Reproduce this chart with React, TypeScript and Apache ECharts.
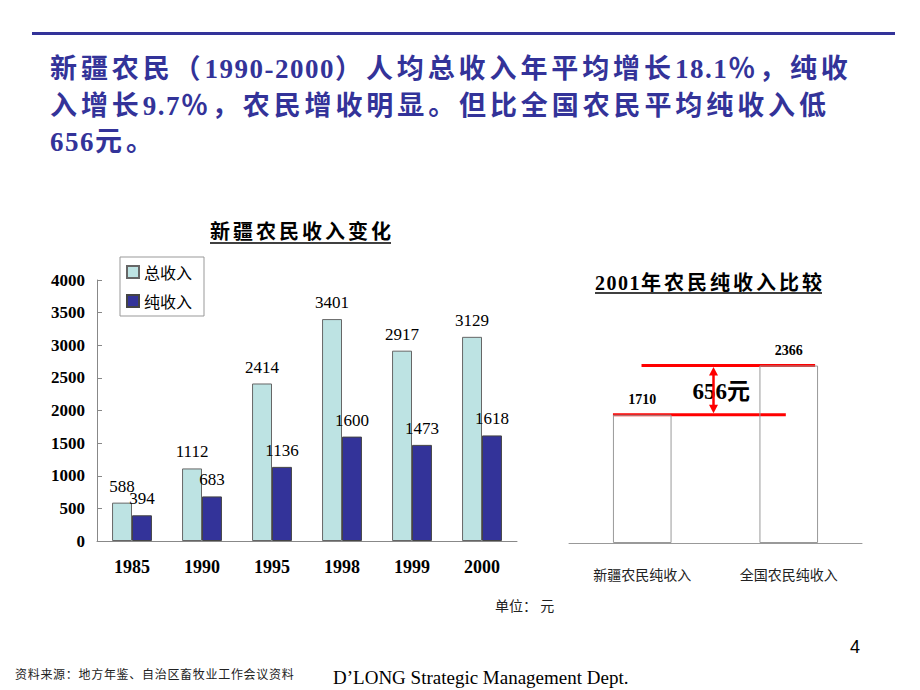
import React, { useEffect, useRef } from "react";
import * as echarts from "echarts";

// ---------- data ----------
const headlineLines = [
  "新疆农民（1990-2000）人均总收入年平均增长18.1％，纯收",
  "入增长9.7％，农民增收明显。但比全国农民平均纯收入低",
  "656元。",
];
const leftTitle = "新疆农民收入变化";
const rightTitle = "2001年农民纯收入比较";
const seriesNames = ["总收入", "纯收入"];
const years = ["1985", "1990", "1995", "1998", "1999", "2000"];
const totalIncome = [588, 1112, 2414, 3401, 2917, 3129];
const netIncome = [394, 683, 1136, 1600, 1473, 1618];
const leftAxisMin = 0;
const leftAxisMax = 4000;
const leftAxisInterval = 500;
const compareCategories = ["新疆农民纯收入", "全国农民纯收入"];
const compareValues = [1710, 2366];
const compareAxisMax = 3000;
const unitText = "单位： 元";
const sourceText = "资料来源：地方年鉴、自治区畜牧业工作会议资料";
const footerText = "D’LONG Strategic Management Dept.";
const pageNumber = "4";

// ---------- styles ----------
const SERIF = '"Liberation Serif", "Noto Sans CJK SC", serif';
const CJK = '"Noto Sans CJK SC", "Liberation Serif", sans-serif';
const BLUE = "#333399";
const LIGHT = "#bde3e3";

let measureCtx: CanvasRenderingContext2D | null = null;
function measure(text: string, font: string): number {
  if (!measureCtx) measureCtx = document.createElement("canvas").getContext("2d");
  measureCtx!.font = font;
  return measureCtx!.measureText(text).width;
}

function isWide(ch: string): boolean {
  return ch.charCodeAt(0) > 0x2e80;
}

function spacedText(
  text: string,
  x: number,
  y: number,
  size: number,
  weight: string,
  family: string,
  wideSpacing: number,
  narrowSpacing: number,
  fill: string
) {
  const children: any[] = [];
  let cx = x;
  let lastSpacing = 0;
  for (const ch of Array.from(text)) {
    children.push({
      type: "text",
      x: cx,
      y,
      silent: true,
      style: {
        text: ch,
        fontSize: size,
        fontWeight: weight,
        fontFamily: family,
        fill,
        verticalAlign: "middle",
        align: "left",
      },
    });
    lastSpacing = isWide(ch) ? wideSpacing : narrowSpacing;
    cx += measure(ch, `${weight} ${size}px ${family}`) + lastSpacing;
  }
  return { children, end: cx - lastSpacing };
}

export default function App() {
  const ref = useRef<HTMLDivElement>(null);

  useEffect(() => {
    if (!ref.current) return;
    const chart = echarts.init(ref.current, null, { renderer: "svg" });

    const graphics: any[] = [];
    // top rule
    graphics.push({
      type: "rect",
      silent: true,
      shape: { x: 32, y: 32, width: 863, height: 3 },
      style: { fill: BLUE },
    });
    // headline
    const headY = [69, 106, 142];
    headlineLines.forEach((line, i) => {
      const t = spacedText(line, 50, headY[i], 27, "bold", SERIF, 3.9, 1.5, BLUE);
      graphics.push(...t.children);
    });
    // left chart title + underline
    const lt = spacedText(leftTitle, 210, 232, 20, "bold", SERIF, 3, 1, "#000");
    graphics.push(...lt.children);
    graphics.push({
      type: "line",
      silent: true,
      shape: { x1: 210, y1: 243, x2: lt.end, y2: 243 },
      style: { stroke: "#000", lineWidth: 1.5 },
    });
    // right chart title + underline
    const rt = spacedText(rightTitle, 595, 283, 20, "bold", SERIF, 3, 1.5, "#000");
    graphics.push(...rt.children);
    graphics.push({
      type: "line",
      silent: true,
      shape: { x1: 595, y1: 293, x2: rt.end, y2: 293 },
      style: { stroke: "#000", lineWidth: 1.5 },
    });
    // unit
    graphics.push({
      type: "text",
      silent: true,
      x: 495,
      y: 605,
      style: { text: unitText, fontSize: 14, fontFamily: CJK, fill: "#222", verticalAlign: "middle" },
    });
    // source
    const st = spacedText(sourceText, 15, 673, 12, "normal", CJK, 0.7, 0.7, "#222");
    graphics.push(...st.children);
    graphics.push({
      type: "text",
      silent: true,
      x: 333,
      y: 677,
      style: { text: footerText, fontSize: 19, fontFamily: SERIF, fill: "#000", verticalAlign: "middle" },
    });
    graphics.push({
      type: "text",
      silent: true,
      x: 855,
      y: 647,
      style: {
        text: pageNumber,
        fontSize: 18,
        fontFamily: '"Liberation Sans", sans-serif',
        fill: "#000",
        align: "center",
        verticalAlign: "middle",
      },
    });

    chart.setOption({
      animation: false,
      backgroundColor: "#fff",
      legend: {
        data: seriesNames,
        orient: "vertical",
        left: 120,
        top: 257,
        padding: [7, 12, 7, 6],
        itemGap: 13,
        itemWidth: 12,
        itemHeight: 12,
        icon: "rect",
        borderColor: "#999",
        borderWidth: 1,
        textStyle: { fontSize: 16, fontFamily: CJK, color: "#000" },
      },
      grid: [
        { left: 97, top: 280, width: 420, height: 261 },
        { left: 569, top: 318, width: 293, height: 225 },
      ],
      xAxis: [
        {
          gridIndex: 0,
          type: "category",
          data: years,
          axisLine: { lineStyle: { color: "#888" } },
          axisTick: { inside: true, length: 5, lineStyle: { color: "#888" } },
          axisLabel: {
            fontSize: 18,
            fontWeight: "bold",
            fontFamily: SERIF,
            color: "#000",
            margin: 17,
          },
        },
        {
          gridIndex: 1,
          type: "category",
          data: compareCategories,
          axisLine: { lineStyle: { color: "#999" } },
          axisTick: { inside: true, length: 6, lineStyle: { color: "#999" } },
          axisLabel: { fontSize: 14, fontFamily: CJK, color: "#222", margin: 24 },
        },
      ],
      yAxis: [
        {
          gridIndex: 0,
          type: "value",
          min: leftAxisMin,
          max: leftAxisMax,
          interval: leftAxisInterval,
          axisLine: { show: true, lineStyle: { color: "#888" } },
          axisTick: { show: true, inside: true, length: 5, lineStyle: { color: "#888" } },
          splitLine: { show: false },
          axisLabel: {
            fontSize: 17,
            fontWeight: "bold",
            fontFamily: SERIF,
            color: "#000",
            margin: 12,
            formatter: (v: number) => String(v),
          },
        },
        {
          gridIndex: 1,
          type: "value",
          min: 0,
          max: compareAxisMax,
          show: false,
          splitLine: { show: false },
        },
      ],
      series: [
        {
          name: seriesNames[0],
          type: "bar",
          xAxisIndex: 0,
          yAxisIndex: 0,
          data: totalIncome,
          barGap: "0%",
          barCategoryGap: "43%",
          itemStyle: { color: LIGHT, borderColor: "#666", borderWidth: 1 },
          label: {
            show: true,
            position: "top",
            distance: 8,
            fontSize: 17,
            fontFamily: SERIF,
            color: "#000",
          },
        },
        {
          name: seriesNames[1],
          type: "bar",
          xAxisIndex: 0,
          yAxisIndex: 0,
          data: netIncome,
          itemStyle: { color: BLUE, borderColor: "#444", borderWidth: 1 },
          label: {
            show: true,
            position: "top",
            distance: 8,
            fontSize: 17,
            fontFamily: SERIF,
            color: "#000",
          },
        },
        {
          name: "compare",
          type: "bar",
          xAxisIndex: 1,
          yAxisIndex: 1,
          data: compareValues,
          barWidth: "40%",
          itemStyle: { color: "rgba(0,0,0,0)", borderColor: "#999", borderWidth: 1 },
          label: {
            show: true,
            position: "top",
            distance: 8,
            fontSize: 14,
            fontWeight: "bold",
            fontFamily: SERIF,
            color: "#000",
          },
        },
        {
          name: "gap",
          type: "custom",
          xAxisIndex: 1,
          yAxisIndex: 1,
          clip: false,
          silent: true,
          data: [[0, compareValues[0], compareValues[1]]],
          encode: { x: 0, y: [1, 2] },
          renderItem: (params: any, api: any) => {
            const lo = api.value(1);
            const hi = api.value(2);
            const a = api.coord([0, lo]);
            const b = api.coord([1, hi]);
            const bw = api.size([1, 0])[0];
            const yLow = a[1];
            const yUp = b[1];
            const ax = (a[0] + b[0]) / 2 - 2;
            const red = "#ff0000";
            return {
              type: "group",
              children: [
                {
                  type: "line",
                  shape: { x1: a[0] - 0.2 * bw, y1: yLow, x2: b[0] - 0.02 * bw, y2: yLow },
                  style: { stroke: red, lineWidth: 3 },
                },
                {
                  type: "line",
                  shape: { x1: a[0] - 0.005 * bw, y1: yUp, x2: b[0] + 0.18 * bw, y2: yUp },
                  style: { stroke: red, lineWidth: 3 },
                },
                {
                  type: "text",
                  x: ax - 21,
                  y: (yUp + yLow) / 2 + 1,
                  style: {
                    text: `${hi - lo}元`,
                    fontSize: 23,
                    fontWeight: "bold",
                    fontFamily: SERIF,
                    fill: "#000",
                    verticalAlign: "middle",
                  },
                },
                {
                  type: "line",
                  shape: { x1: ax, y1: yUp + 6, x2: ax, y2: yLow - 6 },
                  style: { stroke: red, lineWidth: 2.5 },
                },
                {
                  type: "polygon",
                  shape: { points: [[ax, yUp + 1.5], [ax - 4.5, yUp + 10], [ax + 4.5, yUp + 10]] },
                  style: { fill: red },
                },
                {
                  type: "polygon",
                  shape: { points: [[ax, yLow - 1.5], [ax - 4.5, yLow - 10], [ax + 4.5, yLow - 10]] },
                  style: { fill: red },
                },
              ],
            };
          },
        },
      ],
      graphic: graphics,
    });

    return () => chart.dispose();
  }, []);

  return (
    <div
      ref={ref}
      style={{ position: "fixed", left: 0, top: 0, width: 920, height: 690, background: "#fff" }}
    />
  );
}
